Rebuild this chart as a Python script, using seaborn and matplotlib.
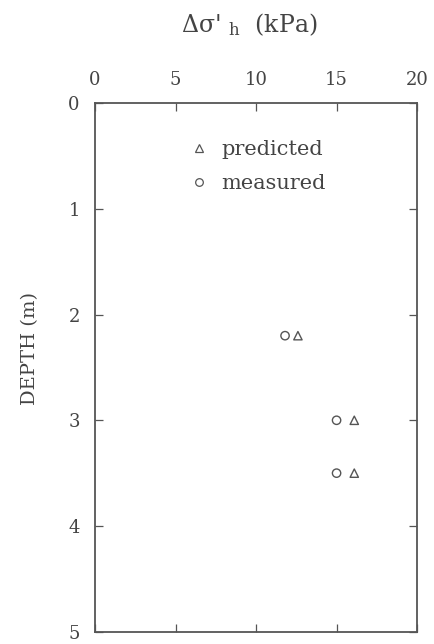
import matplotlib
matplotlib.use("Agg")
import matplotlib.pyplot as plt
from matplotlib.lines import Line2D
import seaborn as sns
import pandas as pd

# Horizontal stress increase versus depth
depth = [2.2, 3.0, 3.5]
predicted = [12.6, 16.1, 16.1]
measured = [11.8, 15.0, 15.0]
x_ticks = [0, 5, 10, 15, 20]
y_ticks = [0, 1, 2, 3, 4, 5]

df = pd.DataFrame({
    "depth": depth * 2,
    "stress": predicted + measured,
    "series": ["predicted"] * len(depth) + ["measured"] * len(depth),
})

sns.set_theme(style="white")
plt.rcParams["font.family"] = ["DejaVu Serif"]
plt.rcParams["mathtext.fontset"] = "dejavuserif"
ink = "#555555"
txt = "#444444"

fig = plt.figure(figsize=(4.34, 6.44), dpi=100)
ax = fig.add_axes([0.219, 0.019, 0.742, 0.821])

sns.scatterplot(
    data=df, x="stress", y="depth", style="series", hue="series",
    markers={"predicted": "^", "measured": "o"},
    palette={"predicted": ink, "measured": ink},
    s=36, linewidth=1.0, ax=ax, legend=False,
)
# open markers
for coll in ax.collections:
    coll.set_facecolor("none")
    coll.set_edgecolor(ink)

ax.set_xlim(0, 20)
ax.set_ylim(5, 0)
ax.set_xticks(x_ticks)
ax.set_yticks(y_ticks)
ax.xaxis.tick_top()
ax.xaxis.set_label_position("top")
ax.tick_params(axis="both", direction="in", length=6, width=0.9, color=ink,
               labelsize=13, labelcolor=txt, top=True, bottom=True,
               left=True, right=True)
ax.tick_params(axis="x", pad=10)
ax.tick_params(axis="y", pad=11)
for sp in ax.spines.values():
    sp.set_color(ink)
    sp.set_linewidth(1.3)

ax.set_xlabel("Δσ' $_{\\mathrm{h}}$  (kPa)", fontsize=17, color=txt)
ax.xaxis.set_label_coords(0.48, 1.135)
ax.set_ylabel("DEPTH (m)", fontsize=14, color=txt)
ax.yaxis.set_label_coords(-0.175, 0.536)

handles = [
    Line2D([], [], marker="^", linestyle="none", markersize=5.5,
           markerfacecolor="none", markeredgecolor=ink, markeredgewidth=0.9),
    Line2D([], [], marker="o", linestyle="none", markersize=5.5,
           markerfacecolor="none", markeredgecolor=ink, markeredgewidth=0.9),
]
ax.legend(handles, ["predicted", "measured"], loc="upper left",
          bbox_to_anchor=(0.27, 0.945), frameon=False, fontsize=15,
          labelcolor=txt, handlelength=0.8, handletextpad=0.7,
          labelspacing=0.7, borderaxespad=0)

fig.savefig("out.png", dpi=100, facecolor="white")
